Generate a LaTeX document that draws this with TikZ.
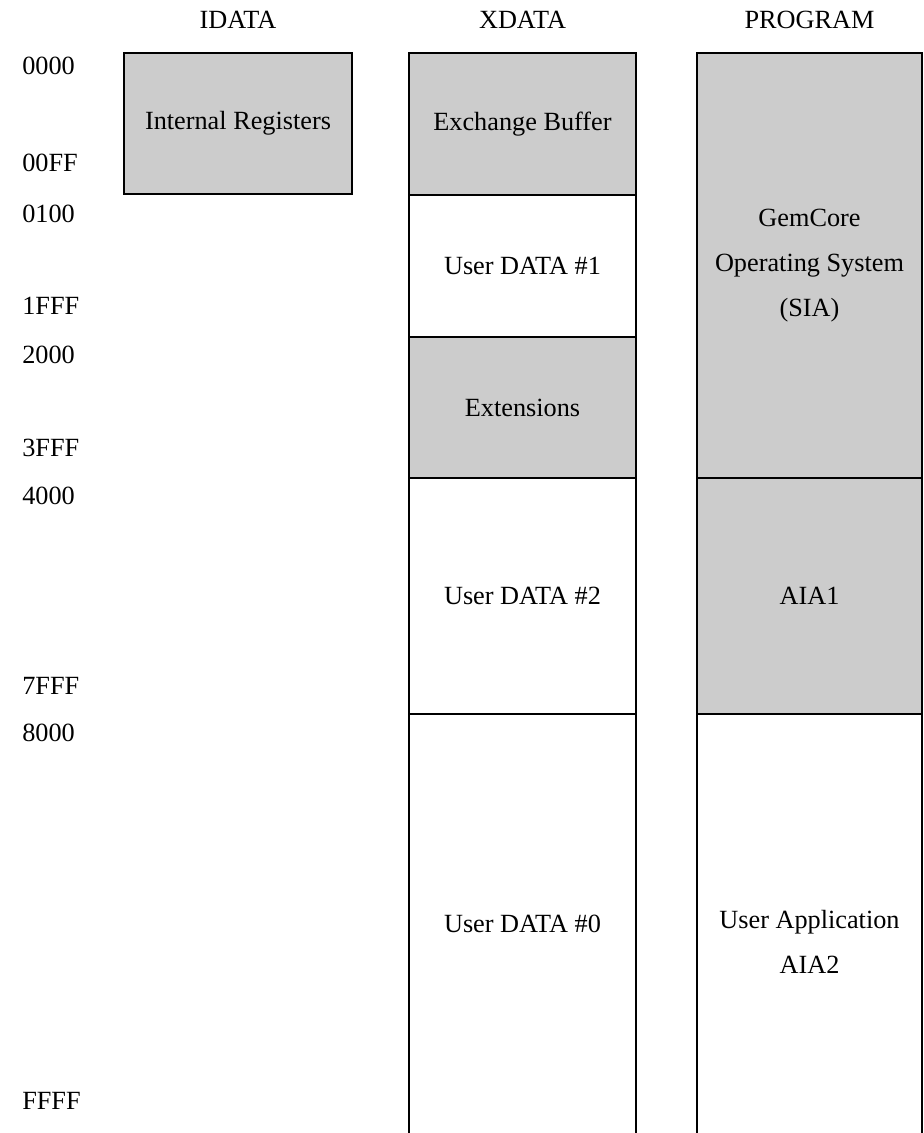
\documentclass[tikz,border=0pt]{standalone}
\usepackage{fontspec}
\setmainfont{Liberation Serif}
\begin{document}
\begin{tikzpicture}[x=0.75pt,y=-0.75pt,
  txt/.style={font=\fontsize{19.7}{33.75}\selectfont, align=center},
  seg/.style={txt, draw=black, line width=1.6pt, rectangle, inner sep=0pt},
  shaded/.style={seg, fill=black!20},
  plain/.style={seg, fill=white},
  openseg/.style={txt, rectangle, inner sep=0pt},
  addr/.style={font=\fontsize{19.7}{24}\selectfont, anchor=west, inner sep=0pt},
  hdr/.style={font=\fontsize{19.7}{24}\selectfont, inner sep=0pt}]
\useasboundingbox (0,0) rectangle (924,1133);

% column headers
\node[hdr] (hI) at (238,20) {IDATA};
\node[hdr] (hX) at (522.5,20) {XDATA};
\node[hdr] (hP) at (809.5,20) {PROGRAM};

% address marks
\node[addr] (a0000) at (22,66) {0000};
\node[addr] (a00FF) at (22,163) {00FF};
\node[addr] (a0100) at (22,214) {0100};
\node[addr] (a1FFF) at (22,306) {1FFF};
\node[addr] (a2000) at (22,355) {2000};
\node[addr] (a3FFF) at (22,448) {3FFF};
\node[addr] (a4000) at (22,496) {4000};
\node[addr] (a7FFF) at (22,686) {7FFF};
\node[addr] (a8000) at (22,733) {8000};
\node[addr] (aFFFF) at (22,1101) {FFFF};

% IDATA
\node[shaded, minimum width=228*0.75pt, minimum height=141*0.75pt] (ireg) at (238,123.5) {Internal Registers};

% XDATA
\node[shaded, minimum width=227*0.75pt, minimum height=142*0.75pt] (xbuf) at (522.5,124) {Exchange Buffer};
\node[plain, minimum width=227*0.75pt, minimum height=142*0.75pt] (xud1) at (522.5,266) {User DATA \#1};
\node[shaded, minimum width=227*0.75pt, minimum height=141*0.75pt] (xext) at (522.5,407.5) {Extensions};
\node[plain, minimum width=227*0.75pt, minimum height=236*0.75pt] (xud2) at (522.5,596) {User DATA \#2};
\node[openseg, minimum width=227*0.75pt, minimum height=419*0.75pt] (xud0) at (522.5,923.5) {User DATA \#0};
\draw[line width=1.6pt] (xud0.south west) -- (xud0.north west) -- (xud0.north east) -- (xud0.south east);

% PROGRAM
\node[shaded, minimum width=225*0.75pt, minimum height=425*0.75pt] (pos) at (809.5,265.5) {GemCore\\Operating System\\(SIA)};
\node[shaded, minimum width=225*0.75pt, minimum height=236*0.75pt] (paia1) at (809.5,596) {AIA1};
\node[openseg, minimum width=225*0.75pt, minimum height=419*0.75pt] (paia2) at (809.5,923.5) {};
\draw[line width=1.6pt] (paia2.south west) -- (paia2.north west) -- (paia2.north east) -- (paia2.south east);
\node[txt] (paia2txt) at (809.5,942) {User Application\\AIA2};
\end{tikzpicture}
\end{document}
